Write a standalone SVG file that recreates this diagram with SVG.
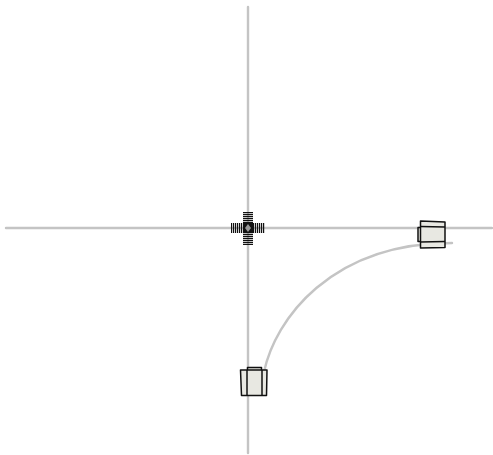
<svg xmlns="http://www.w3.org/2000/svg" width="493" height="455" viewBox="0 0 493 455">
<style>
.road{fill:none;stroke:#c4c4c4;stroke-width:2.4;stroke-linecap:round}
.body{fill:#e8e8e2;stroke:#111;stroke-width:1.5;stroke-linejoin:round}
.ln{fill:none;stroke:#111;stroke-width:1.5}
.tick{fill:none;stroke:#111;stroke-width:10;stroke-dasharray:1.2 .8}
</style>
<rect width="493" height="455" fill="#fff"/>
<g id="connectors">
<path class="road" d="M248 7V453"/>
<path class="road" d="M6 228H492"/>
<path class="road" d="M264 372C275 320 330 243 452 243"/>
</g>
<g id="node-center">
<path class="tick" d="M231 228H265"/>
<path class="tick" d="M248 212V245"/>
<rect x="243" y="223" width="10" height="10" fill="#111"/>
<path d="M245 228L248 224L251 228L248 232Z" fill="#999"/>
</g>
<g id="node-right">
<path class="body" d="M418 227.500H421V241.500H418Z"/>
<path class="body" d="M420.500 221L445 222V247.500L420.500 248Z"/>
<path class="ln" d="M420.500 226.500L445 227M420.500 242L445 241.500"/>
</g>
<g id="node-bottom">
<path class="body" d="M247.500 367.500H261.500V371H247.500Z"/>
<path class="body" d="M240.500 370H267L266.500 395.500H241.500Z"/>
<path class="ln" d="M247 370V395.500M262 370V395.500"/>
</g>
</svg>
